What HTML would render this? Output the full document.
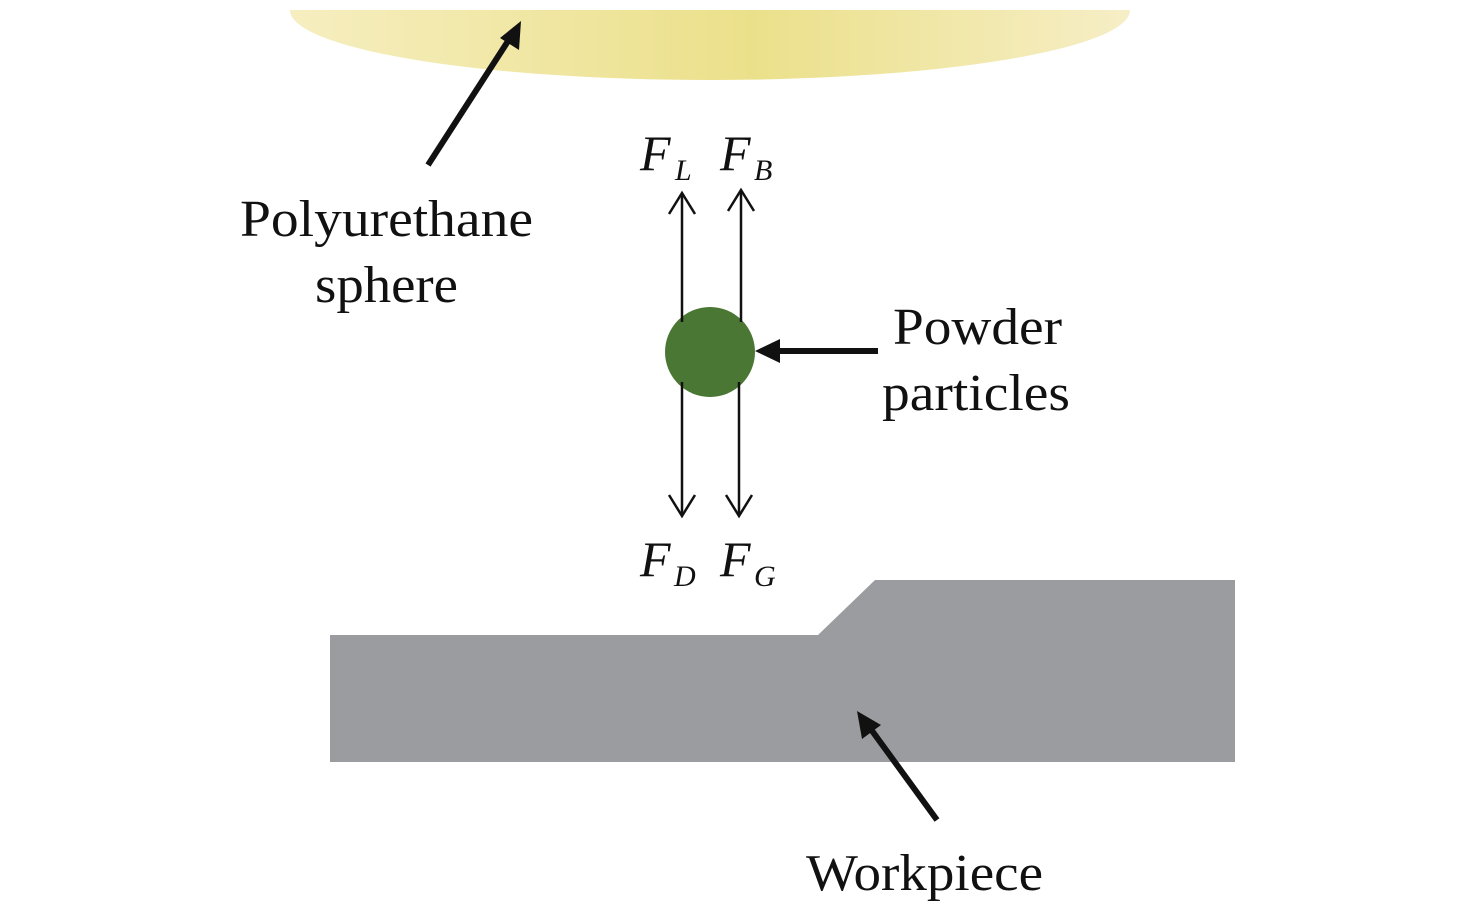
<!DOCTYPE html>
<html><head><meta charset="utf-8"><style>html,body{margin:0;padding:0;background:#fff}svg{display:block}</style></head><body>
<svg width="1476" height="911" viewBox="0 0 1476 911" xmlns="http://www.w3.org/2000/svg" font-family="Liberation Serif, serif">
<defs>
<linearGradient id="g" x1="0" x2="1" y1="0" y2="0">
<stop offset="0" stop-color="#f6eec0"/><stop offset="0.55" stop-color="#ebe08a"/><stop offset="1" stop-color="#f6eec6"/>
</linearGradient>
</defs>
<path d="M290,10 A420,70 0 0 0 1130,10 Z" fill="url(#g)"/>
<polygon points="330,635 818,635 875,580 1235,580 1235,762 330,762" fill="#9b9c9f"/>
<circle cx="710" cy="352" r="45" fill="#4b7734"/>
<g stroke="#111" stroke-width="2.5" fill="none">
<line x1="682" y1="193" x2="682" y2="322"/><line x1="741" y1="190" x2="741" y2="322"/>
<line x1="682" y1="382" x2="682" y2="516"/><line x1="739" y1="382" x2="739" y2="516"/>
<polyline points="669,214 682,193 695,214"/><polyline points="728,211 741,190 754,211"/>
<polyline points="669,495 682,516 695,495"/><polyline points="726,495 739,516 752,495"/>
</g>
<g stroke="#111" stroke-width="6">
<line x1="878" y1="351" x2="775" y2="351"/>
<line x1="428" y1="165" x2="510" y2="38"/>
<line x1="937" y1="820" x2="870" y2="728"/>
</g>
<g fill="#111">
<polygon points="755,351 780,339 780,363"/>
<polygon points="521,21 519,50 500,38"/>
<polygon points="857,711 881,725 862,739"/>
</g>
<g font-style="italic" fill="#111">
<text x="640" y="170" font-size="50">F</text><text x="675" y="180" font-size="30">L</text>
<text x="720" y="170" font-size="50">F</text><text x="754" y="180" font-size="30">B</text>
<text x="640" y="576" font-size="50">F</text><text x="674" y="586" font-size="30">D</text>
<text x="720" y="576" font-size="50">F</text><text x="754" y="586" font-size="30">G</text>
</g>
<g font-size="52" fill="#111">
<text x="240" y="236" textLength="293" lengthAdjust="spacingAndGlyphs">Polyurethane</text>
<text x="315" y="302" textLength="143" lengthAdjust="spacingAndGlyphs">sphere</text>
<text x="893" y="344" textLength="169" lengthAdjust="spacingAndGlyphs">Powder</text>
<text x="882" y="410" textLength="188" lengthAdjust="spacingAndGlyphs">particles</text>
<text x="806" y="890" textLength="237" lengthAdjust="spacingAndGlyphs">Workpiece</text>
</g>
</svg>
</body></html>
